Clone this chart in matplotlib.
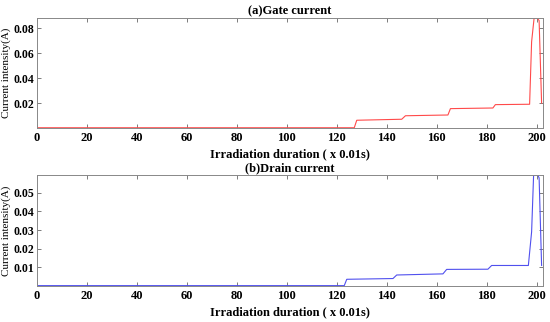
import matplotlib; matplotlib.use('Agg')
import matplotlib.pyplot as plt

# gate current (top panel)
gate_t = [0, 127, 128, 146, 147.5, 164.5, 165.5, 182.5, 183.5, 197.2, 198, 199, 200.2, 201, 202]
gate_i = [0.0002, 0.0002, 0.0062, 0.0070, 0.0098, 0.0104, 0.0155, 0.0160, 0.0187, 0.0190,
          0.069, 0.088, 0.088, 0.086, 0.020]

# drain current (bottom panel)
drain_t = [0, 123, 124, 142.5, 144, 162.5, 164, 180.5, 182, 196.7, 198, 198.8, 200.5, 201, 202]
drain_i = [0.0002, 0.0002, 0.0036, 0.0040, 0.0059, 0.0065, 0.0089, 0.0090, 0.0110, 0.0110,
           0.029, 0.0595, 0.0593, 0.058, 0.011]

titles = ['(a)Gate current', '(b)Drain current']
xlabel = 'Irradiation duration ( x 0.01s)'
ylabel = 'Current intensity(A)'
x_ticks = [0, 20, 40, 60, 80, 100, 120, 140, 160, 180, 200]
gate_yticks = [0.02, 0.04, 0.06, 0.08]
drain_yticks = [0.01, 0.02, 0.03, 0.04, 0.05]

plt.rcParams['font.family'] = ['Liberation Serif', 'DejaVu Serif']

fig = plt.figure(figsize=(5.5, 3.22), dpi=100)
ax1 = fig.add_axes([0.0673, 0.6025, 0.9197, 0.3415])
ax2 = fig.add_axes([0.0673, 0.1118, 0.9197, 0.3447])

panels = [(ax1, gate_t, gate_i, '#ff4a4a', gate_yticks, 0.088),
          (ax2, drain_t, drain_i, '#5050ee', drain_yticks, 0.0595)]

for i, (ax, t, y, col, yt, ytop) in enumerate(panels):
    ax.plot(t, y, color=col, lw=0.8)
    ax.set_xlim(0, 202.5)
    ax.set_ylim(0, ytop)
    ax.set_xticks(x_ticks)
    ax.set_yticks(yt)
    ax.set_yticklabels([f'{v:.2f}' for v in yt])
    ax.tick_params(direction='in', top=True, right=True, length=3, width=0.6,
                   color='#666666', labelsize=9, pad=3)
    ax.tick_params(axis='y', pad=2, labelsize=8.5)
    for lab in ax.get_xticklabels() + ax.get_yticklabels():
        lab.set_fontweight('bold')
    for sp in ax.spines.values():
        sp.set_color('#888888'); sp.set_linewidth(0.7)
    ax.set_title(titles[i], fontsize=9, fontweight='bold', pad=3)
    ax.set_xlabel(xlabel, fontsize=9, fontweight='bold', labelpad=3)
    ax.set_ylabel(ylabel, fontsize=8)
    ax.yaxis.set_label_coords(-0.052, 0.5)

plt.savefig('out.png', dpi=100)
plt.close()
